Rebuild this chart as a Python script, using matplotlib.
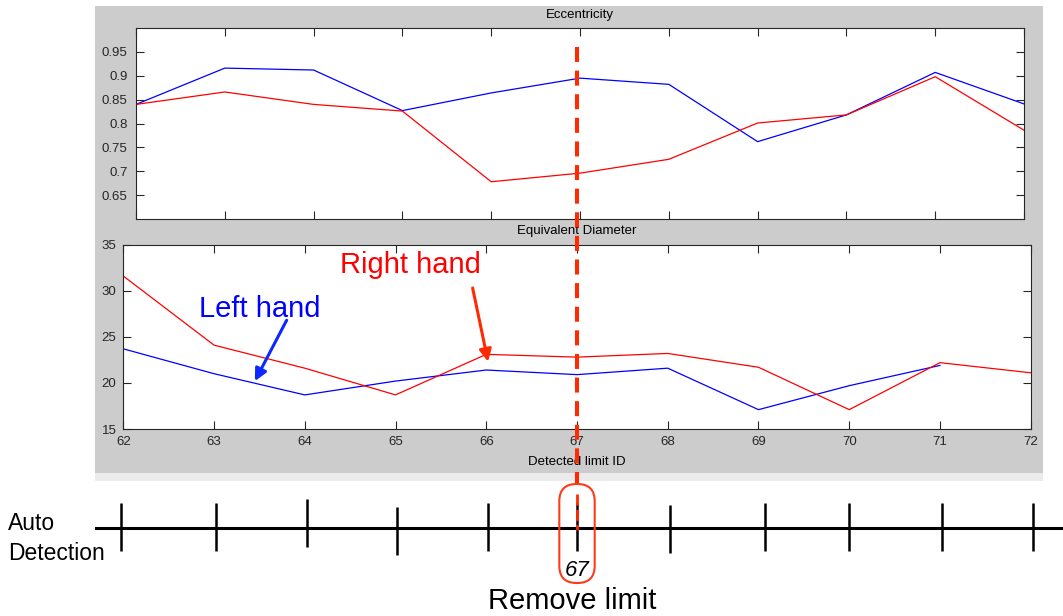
import numpy as np
import matplotlib.pyplot as plt
from matplotlib.patches import Rectangle, FancyBboxPatch

plt.rcParams['font.family'] = ['Liberation Sans', 'DejaVu Sans']
plt.rcParams['lines.scale_dashes'] = False

#---------- data

limit_id = [62, 63, 64, 65, 66, 67, 68, 69, 70, 71, 72]

ecc_left  = [0.840, 0.916, 0.912, 0.827, 0.864, 0.895, 0.882, 0.762, 0.818, 0.907, 0.841]
ecc_right = [0.840, 0.866, 0.840, 0.826, 0.678, 0.696, 0.725, 0.801, 0.818, 0.898, 0.786]

diam_id    = [62, 63, 64, 65, 66, 67, 68, 69, 70, 71]
diam_left  = [23.7, 21.0, 18.7, 20.2, 21.4, 20.9, 21.6, 17.1, 19.7, 21.9]
diam_right = [31.6, 24.1, 21.6, 18.7, 23.1, 22.8, 23.2, 21.7, 17.1, 22.2, 21.1]

ecc_ticks  = [0.65, 0.7, 0.75, 0.8, 0.85, 0.9, 0.95]
diam_ticks = [15, 20, 25, 30, 35]

# limits found by the automatic detection, and the one taken out
auto_limits   = [61.97, 63.02, 64.02, 65.02, 66.02, 67.0, 68.02, 69.07, 70.0, 71.02, 72.02]
removed_limit = 67

#---------- layout helpers (pixel boxes -> figure fractions)

W, H = 1063, 616
fig = plt.figure(figsize=(W/100., H/100.), dpi=100)

def box(x0, y0, x1, y1):
	return [x0/W, 1-y1/H, (x1-x0)/W, (y1-y0)/H]

fig.patches.append(Rectangle((95/W, 1-473/H), 948/W, 467/H, transform=fig.transFigure,
	fc='#cccccc', ec='none', zorder=-10))
fig.patches.append(Rectangle((95/W, 1-481/H), 948/W, 8/H, transform=fig.transFigure,
	fc='#ebebeb', ec='none', zorder=-10))

def matlab_style(ax, ypad):
	ax.tick_params(direction='in', top=True, right=True, length=6, width=0.8,
		labelsize=9.5, colors='#262626')
	ax.tick_params(axis='y', pad=ypad)
	ax.tick_params(axis='x', pad=5)
	for s in ax.spines.values():
		s.set_color('#262626')
		s.set_linewidth(0.8)

#---------- eccentricity

ax1 = fig.add_axes(box(136, 28, 1024, 219))
ax1.plot(limit_id, ecc_left, color='#0000ff', lw=0.9)
ax1.plot(limit_id, ecc_right, color='#ff0000', lw=0.9)
ax1.set_xlim(62, 72)
ax1.set_ylim(0.6, 1.0)
ax1.set_xticks(limit_id)
ax1.set_xticklabels([])
ax1.set_yticks(ecc_ticks)
ax1.set_yticklabels(['%g' % v for v in ecc_ticks])
ax1.set_title('Eccentricity', fontsize=9.5, pad=7)
matlab_style(ax1, 6)

#---------- equivalent diameter

ax2 = fig.add_axes(box(123.3, 244.7, 1030.7, 429))
ax2.plot(diam_id, diam_left, color='#0000ff', lw=0.9)
ax2.plot(limit_id, diam_right, color='#ff0000', lw=0.9)
ax2.set_xlim(62, 72)
ax2.set_ylim(15, 35)
ax2.set_xticks(limit_id)
ax2.set_yticks(diam_ticks)
ax2.set_title('Equivalent Diameter', fontsize=9.5, pad=8)
ax2.set_xlabel('Detected limit ID', fontsize=9.5, labelpad=6)
matlab_style(ax2, 5)

ax2.text(65.16, 31.9, 'Right hand', color='#ff0000', fontsize=21, ha='center', va='baseline')
ax2.text(63.50, 27.2, 'Left hand', color='#0000ff', fontsize=21, ha='center', va='baseline')
ax2.annotate('', xy=(66.02, 22.3), xytext=(65.85, 30.3), annotation_clip=False,
	arrowprops=dict(arrowstyle='-|>', color='#ff2a00', lw=2.2, mutation_scale=18, shrinkA=0, shrinkB=0))
ax2.annotate('', xy=(63.45, 20.2), xytext=(63.80, 26.8), annotation_clip=False,
	arrowprops=dict(arrowstyle='-|>', color='#0a28ff', lw=2.2, mutation_scale=18, shrinkA=0, shrinkB=0))

#---------- auto detection strip (same x scale as the diameter plot, y in pixel rows)

ax3 = fig.add_axes(box(95, 481, 1063, 616))
scale = (1030.7-123.3)/10.
ax3.set_xlim(62-(123.3-95)/scale, 62+(1063-123.3)/scale)
ax3.set_ylim(616, 481)
ax3.axis('off')

ax3.axhline(527.5, color='k', lw=2.2)
jitter = [0, 0, -4, 4, 0, 0, 2, 0, 0, 0, 0]
for x, j in zip(auto_limits, jitter):
	ax3.plot([x, x], [503+j, 551+j], color='k', lw=1.8, solid_capstyle='butt')

# removed limit: dashed marker through both plots, ringed below
ax3.plot([removed_limit, removed_limit], [47, 483], color='#ff2a00', lw=2.9,
	dashes=(10.8, 6.2), clip_on=False, zorder=5)
ax3.plot([removed_limit, removed_limit], [494, 530], color='#ff2a00', lw=2.0,
	dashes=(8, 3), zorder=5)
ring = FancyBboxPatch((removed_limit-0.195, 484), 0.39, 99,
	boxstyle='round,pad=0,rounding_size=0.19', mutation_aspect=scale,
	fc='none', ec='#ff3a1a', lw=1.5, zorder=6)
ax3.add_patch(ring)
ax3.text(removed_limit, 576, '%d' % removed_limit, style='italic', fontsize=16,
	ha='center', va='baseline')
ax3.text(removed_limit-0.05, 609, 'Remove limit', fontsize=21, ha='center', va='baseline')

fig.text(8/W, 1-530/H, 'Auto', fontsize=16.5, va='baseline')
fig.text(8/W, 1-560/H, 'Detection', fontsize=16.5, va='baseline')

plt.savefig('out.png', dpi=100)
plt.close()
